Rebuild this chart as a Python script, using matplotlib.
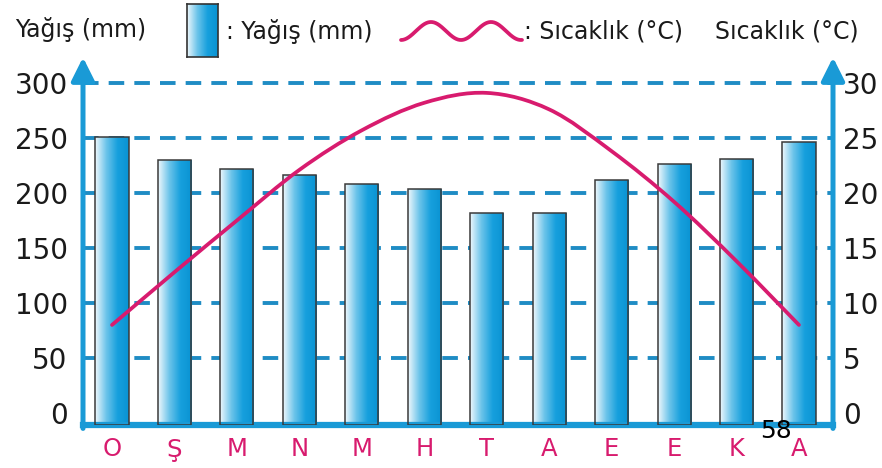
import numpy as np
import matplotlib
matplotlib.use('Agg')
import matplotlib.pyplot as plt
from matplotlib.colors import LinearSegmentedColormap
from matplotlib.path import Path
from matplotlib.patches import PathPatch

# veriler
aylar = ['O', 'Ş', 'M', 'N', 'M', 'H', 'T', 'A', 'E', 'E', 'K', 'A']
yagis = [251, 230, 222, 216, 208, 204, 182, 182, 212, 226, 231, 246]
sicaklik = [8, 12.8, 17.5, 22.1, 25.7, 28.2, 29.1, 27.6, 23.8, 19.2, 13.8, 8]
yagis_ticks = [0, 50, 100, 150, 200, 250, 300]
sicaklik_ticks = [0, 5, 10, 15, 20, 25, 30]

mavi = '#1a9ad6'
grid_mavi = '#1f8cc4'
pembe = '#d81b6e'
plt.rcParams['font.family'] = ['DejaVu Sans']

W, H = 882, 468
fig = plt.figure(figsize=(W / 100, H / 100), dpi=100)
ax = fig.add_axes([83 / W, (H - 425) / H, (833 - 83) / W, (425 - 83) / H])
alt = -11

cmap = LinearSegmentedColormap.from_list('bar', ['#eef7fc', '#6cc4ea', '#17a0dd', '#0a93d2'])
grad = np.linspace(0, 1, 100).reshape(1, -1)

x = np.arange(len(aylar))
for yv in yagis_ticks[1:]:
    ax.axhline(yv, color=grid_mavi, lw=2.8, dashes=(4.0, 2.6), zorder=1, clip_on=False)

bars = ax.bar(x, np.array(yagis) - alt, bottom=alt, width=0.53, facecolor='none',
              edgecolor='#3a3a3a', lw=1.1, zorder=3)
for b in bars:
    x0, y0 = b.get_x(), b.get_y()
    im = ax.imshow(grad, extent=[x0, x0 + b.get_width(), y0, y0 + b.get_height()],
                   aspect='auto', cmap=cmap, zorder=2)
    im.set_clip_path(b)

ax.set_xlim(-0.465, 11.545)
ax.set_ylim(alt, 300)
ax.set_yticks(yagis_ticks)
ax.set_xticks(x)
ax.set_xticklabels(aylar, color=pembe, fontsize=17.5)
ax.tick_params(axis='x', length=0, pad=9)
ax.tick_params(axis='y', length=0, pad=11, labelsize=20, labelcolor='#1a1a1a')

for s in ['top', 'left', 'right']:
    ax.spines[s].set_visible(False)
ax.spines['bottom'].set_color(mavi)
ax.spines['bottom'].set_linewidth(4.5)

ax2 = ax.twinx()
ax2.set_ylim(alt / 10, 30)
ax2.set_yticks(sicaklik_ticks)
ax2.tick_params(axis='y', length=0, pad=7, labelsize=20, labelcolor='#1a1a1a')
for s in ax2.spines.values():
    s.set_visible(False)
ax2.set_xlim(-0.465, 11.545)

# sicaklik egrisi: noktalardan gecen bezier
p = np.column_stack([x, sicaklik]).astype(float)
pp = np.vstack([p[0], p, p[-1]])
verts = [p[0]]
codes = [Path.MOVETO]
for i in range(len(p) - 1):
    c1 = pp[i + 1] + (pp[i + 2] - pp[i]) / 6
    c2 = pp[i + 2] - (pp[i + 3] - pp[i + 1]) / 6
    verts += [c1, c2, pp[i + 2]]
    codes += [Path.CURVE4] * 3
ax2.add_patch(PathPatch(Path(verts, codes), facecolor='none', edgecolor=pembe,
                        lw=2.7, capstyle='round', zorder=5))

# eksen oklari
for xa in [0, 1]:
    ax.annotate('', xy=(xa, 1.075), xytext=(xa, -0.01), xycoords='axes fraction',
                arrowprops=dict(arrowstyle='-|>,head_length=0.7,head_width=0.35',
                                color=mavi, lw=3.6, shrinkA=0, shrinkB=0,
                                mutation_scale=20), annotation_clip=False)

# ust basliklar ve gosterge
fs = 17
fig.text(15 / W, 1 - 29 / H, 'Yağış (mm)', fontsize=fs, va='center', ha='left', color='#1a1a1a')
fig.text(859 / W, 1 - 31 / H, 'Sıcaklık (°C)', fontsize=fs, va='center', ha='right', color='#1a1a1a')
fig.text(226 / W, 1 - 31 / H, ': Yağış (mm)', fontsize=fs, va='center', ha='left', color='#1a1a1a')
fig.text(524 / W, 1 - 31 / H, ': Sıcaklık (°C)', fontsize=fs, va='center', ha='left', color='#1a1a1a')

lax = fig.add_axes([187 / W, (H - 57) / H, 31 / W, 53 / H])
lax.imshow(grad, aspect='auto', cmap=cmap)
lax.set_xticks([])
lax.set_yticks([])
for s in lax.spines.values():
    s.set_color('#333333')
    s.set_linewidth(1.2)

wx = np.linspace(401, 522, 200)
wy = 31 + 9 * np.cos((wx - 401) / 60 * 2 * np.pi)
fig.add_artist(plt.Line2D(wx / W, 1 - wy / H, color=pembe, lw=2.7, solid_capstyle='round'))

fig.text(776 / W, 1 - 431 / H, '58', fontsize=18, ha='center', va='center')

fig.savefig('out.png', dpi=100)
